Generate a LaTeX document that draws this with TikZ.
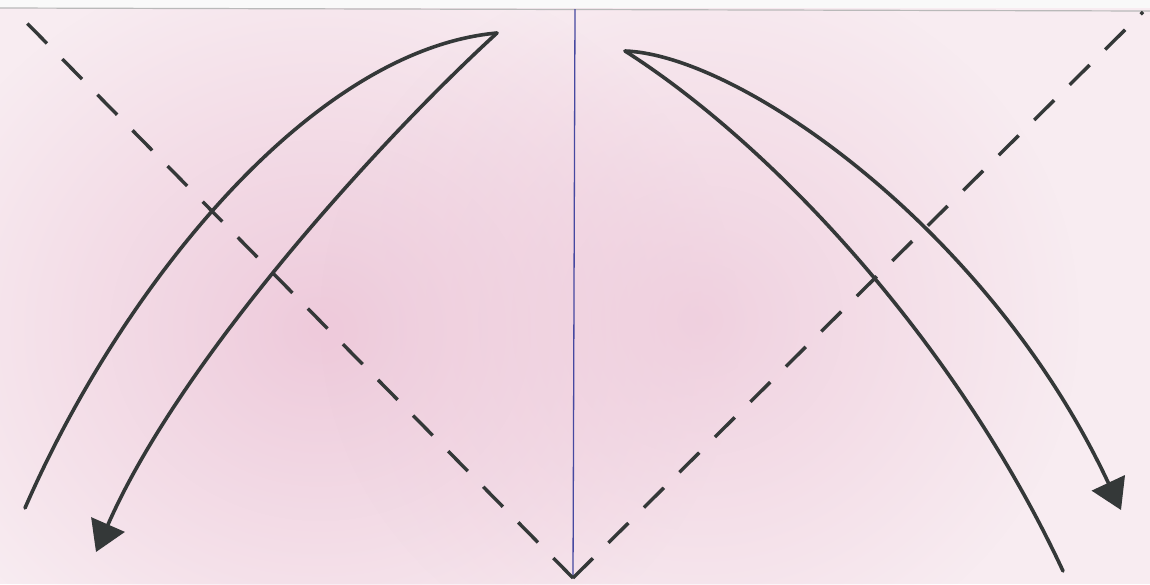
\documentclass[tikz,border=0pt]{standalone}
\usetikzlibrary{arrows.meta,fadings}
\definecolor{paper}{RGB}{248,236,241}
\definecolor{paperdeep}{RGB}{238,202,219}
\definecolor{ink}{RGB}{52,56,56}
\definecolor{creaseblue}{RGB}{70,72,160}
\tikzfading[name=softspot, inner color=transparent!0, outer color=transparent!100]
\tikzset{
  foldline/.style={ink, line width=3.6pt, line cap=round, line join=round},
  valley/.style={ink, line width=3.4pt, dash pattern=on 28pt off 22pt},
  centre/.style={creaseblue, line width=1.3pt},
  edge/.style={gray!55, line width=1.2pt},
  tip/.style={-{Triangle[length=30pt,width=36pt]}}
}
\begin{document}
\begin{tikzpicture}[x=1pt,y=-1pt]
\useasboundingbox (0,0) rectangle (1150,584);
% paper
\fill[paper] (0,0) rectangle (1150,584);
\fill[paperdeep, path fading=softspot] (320,330) ellipse (420pt and 380pt);
\fill[paperdeep, path fading=softspot, fill opacity=0.8] (700,320) ellipse (380pt and 360pt);
\fill[white!95!gray] (0,0) rectangle (1150,8);
% named points
\coordinate (topL) at (18,14);
\coordinate (topR) at (1143,12);
\coordinate (apex) at (573,578);
\coordinate (ctop) at (575,9);
\coordinate (e1) at (0,8);
\coordinate (e2) at (1150,11);
\coordinate (lfree) at (25,508);
\coordinate (ltip) at (497,33);
\coordinate (lend) at (96,552);
\coordinate (rtip) at (625,51);
\coordinate (rfree) at (1063,571);
\coordinate (rend) at (1121,510);
% top edge of paper
\draw[edge] (e1) -- (e2);
% centre crease
\draw[centre] (ctop) -- (apex);
% valley folds
\draw[valley] (apex) -- (topL);
\draw[valley] (apex) -- (topR);
% left fold arrow
\draw[foldline] (lfree) .. controls (120,290) and (310,50) .. (ltip);
\draw[foldline, tip] (ltip) .. controls (380,140) and (180,360) .. (lend);
% right fold arrow
\draw[foldline] (rtip) .. controls (780,150) and (960,350) .. (rfree);
\draw[foldline, tip] (rtip) .. controls (740,55) and (990,230) .. (rend);
\end{tikzpicture}
\end{document}
